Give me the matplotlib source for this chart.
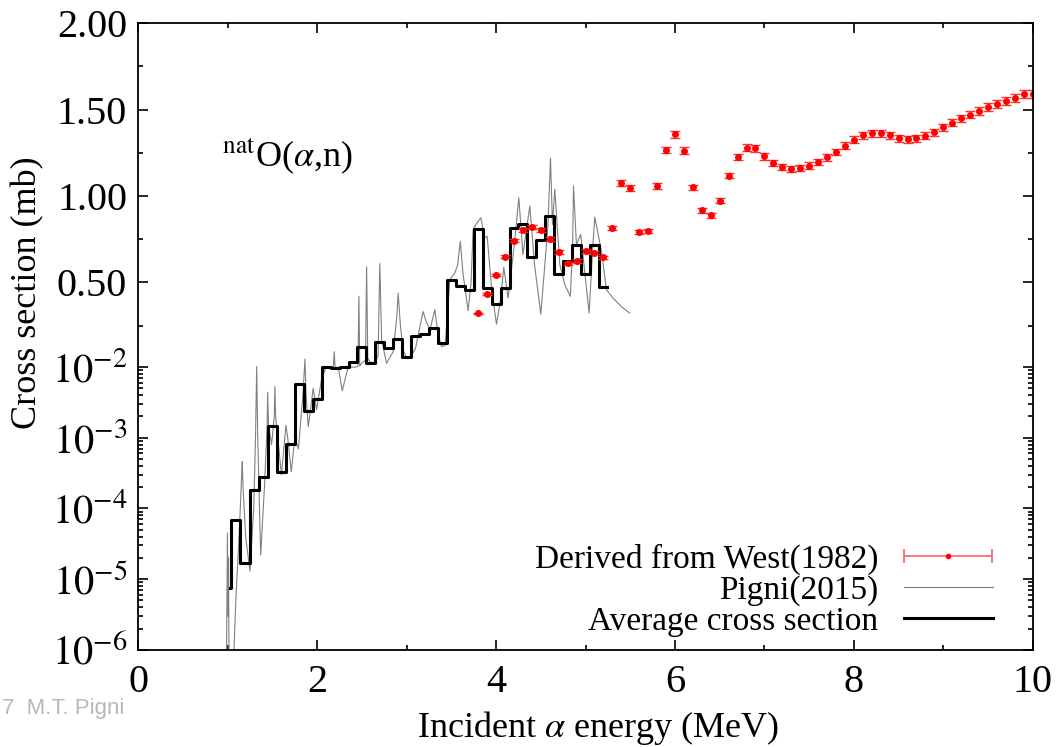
import numpy as np
import matplotlib
matplotlib.use("Agg")
import matplotlib.pyplot as plt
from matplotlib.legend_handler import HandlerErrorbar
from matplotlib.container import ErrorbarContainer

plt.rcParams['font.family'] = ['Liberation Serif', 'DejaVu Serif']
plt.rcParams['mathtext.fontset'] = 'stix'

# ---- data ----------------------------------------------------------------
# West (1982) derived points, energy (MeV) and cross section (mb)
west_e = [3.80, 3.90, 4.00, 4.10, 4.20, 4.30, 4.40, 4.50, 4.60, 4.70, 4.80,
          4.90, 5.00, 5.10, 5.20, 5.30, 5.40, 5.50, 5.60, 5.70, 5.80, 5.90,
          6.00, 6.10, 6.20, 6.30, 6.40, 6.50, 6.60, 6.70, 6.80, 6.90, 7.00,
          7.10, 7.20, 7.30, 7.40, 7.50, 7.60, 7.70, 7.80, 7.90, 8.00, 8.10,
          8.20, 8.30, 8.40, 8.50, 8.60, 8.70, 8.80, 8.90, 9.00, 9.10, 9.20,
          9.30, 9.40, 9.50, 9.60, 9.70, 9.80, 9.90, 10.00]
west_xs = [0.320, 0.434, 0.542, 0.649, 0.742, 0.802, 0.822, 0.802, 0.750,
           0.676, 0.610, 0.624, 0.682, 0.672, 0.645, 0.816, 1.076, 1.045,
           0.791, 0.797, 1.058, 1.266, 1.356, 1.262, 1.050, 0.917, 0.888,
           0.971, 1.118, 1.227, 1.279, 1.275, 1.229, 1.192, 1.167, 1.157,
           1.161, 1.176, 1.198, 1.223, 1.254, 1.291, 1.326, 1.351, 1.362,
           1.362, 1.351, 1.335, 1.327, 1.333, 1.347, 1.368, 1.397, 1.424,
           1.449, 1.471, 1.492, 1.513, 1.533, 1.550, 1.568, 1.589, 1.589]
west_err = [0.015 * v for v in west_xs]

# Pigni (2015) evaluated cross section (resonance curve)
pigni_e = [0.985, 0.996, 1.002, 1.008, 1.015, 1.06, 1.09, 1.13, 1.155, 1.162,
           1.17, 1.20, 1.248, 1.29, 1.31, 1.323, 1.335, 1.368, 1.41, 1.44,
           1.446, 1.455, 1.49, 1.52, 1.527, 1.535, 1.60, 1.65, 1.67, 1.71,
           1.75, 1.79, 1.84, 1.863, 1.875, 1.90, 1.955, 1.993, 2.05, 2.10,
           2.18, 2.19, 2.20, 2.235, 2.28, 2.346, 2.42, 2.455, 2.466, 2.475,
           2.496, 2.54, 2.552, 2.565, 2.589, 2.626, 2.68, 2.70, 2.72, 2.775,
           2.85, 2.887, 2.905, 2.93, 2.96, 3.00, 3.035, 3.10, 3.15, 3.184,
           3.22, 3.26, 3.315, 3.35, 3.39, 3.43, 3.483, 3.539, 3.57, 3.60,
           3.63, 3.687, 3.72, 3.743, 3.78, 3.829, 3.874, 3.90, 3.949, 4.004,
           4.05, 4.086, 4.134, 4.20, 4.254, 4.30, 4.377, 4.43, 4.50, 4.56,
           4.58, 4.608, 4.63, 4.656, 4.712, 4.768, 4.83, 4.855, 4.865, 4.898,
           4.946, 5.04, 5.08, 5.103, 5.178, 5.233, 5.307, 5.40, 5.494]
pigni_xs = [5e-7, 4.5e-5, 3e-6, 2e-5, 5e-7, 5e-7, 5e-6, 5e-5, 3e-4, 4.6e-4,
            2e-4, 4e-5, 1.3e-5, 1e-4, 1e-3, 0.012, 1e-3, 2.2e-5, 2e-4, 1.5e-3,
            4.4e-3, 1.5e-3, 8e-4, 2e-3, 5.3e-3, 2e-3, 3e-4, 1.5e-3, 1e-3, 3.3e-4,
            1e-3, 7e-4, 4e-3, 0.056, 4e-3, 1.43e-3, 5e-3, 2.5e-3, 6.9e-3, 0.0099,
            0.0099, 0.099, 0.0099, 0.0099, 4.6e-3, 0.0116, 0.0099, 0.015, 0.419, 0.015,
            0.031, 0.050, 0.59, 0.060, 0.041, 0.031, 0.070, 0.609, 0.167, 0.031,
            0.100, 0.283, 0.438, 0.250, 0.109, 0.060, 0.060, 0.120, 0.250, 0.331,
            0.270, 0.225, 0.341, 0.200, 0.128, 0.135, 0.516, 0.555, 0.600, 0.738,
            0.550, 0.336, 0.500, 0.807, 0.840, 0.874, 0.758, 0.767, 0.467, 0.258,
            0.400, 0.587, 0.409, 0.700, 0.990, 0.661, 0.942, 0.600, 0.316, 0.700,
            0.835, 1.219, 0.835, 1.039, 0.603, 0.487, 0.419, 0.700, 1.058, 0.719,
            0.777, 0.322, 0.700, 0.878, 0.680, 0.457, 0.409, 0.360, 0.322]

# average cross section, bin edges (MeV) and bin values (mb)
avg_edges = [1.03, 1.04, 1.14, 1.25, 1.35, 1.45, 1.55, 1.65, 1.75, 1.85, 1.95,
             2.05, 2.15, 2.25, 2.35, 2.45, 2.55, 2.65, 2.75, 2.85, 2.95, 3.05,
             3.15, 3.25, 3.35, 3.45, 3.55, 3.65, 3.75, 3.85, 3.95, 4.05, 4.15,
             4.25, 4.35, 4.45, 4.55, 4.65, 4.75, 4.85, 4.95, 5.05, 5.15, 5.245]
avg_xs = [7.5e-6, 6.9e-5, 1.7e-5, 1.8e-4, 2.8e-4, 1.48e-3, 3.25e-4, 8.1e-4,
          5.75e-3, 2.4e-3, 3.5e-3, 0.0115, 0.0098, 0.0106, 0.041, 0.126, 0.031,
          0.157, 0.120, 0.173, 0.066, 0.192, 0.200, 0.237, 0.151, 0.512, 0.480,
          0.453, 0.806, 0.467, 0.374, 0.467, 0.814, 0.837, 0.645, 0.746, 0.882,
          0.547, 0.624, 0.715, 0.548, 0.715, 0.471]

# ---- broken y scale: log below 1e-2, linear above -------------------------
K = (344 / 70.75) / 1.99

def fwd(y):
    y = np.asarray(y, dtype=float)
    lo = np.log10(np.clip(y, 1e-12, None)) + 2
    hi = (y - 0.01) * K
    return np.where(y <= 0.01, lo, hi)

def inv(t):
    t = np.asarray(t, dtype=float)
    return np.where(t <= 0, 10 ** (np.minimum(t, 0) - 2), t / K + 0.01)

fig = plt.figure(figsize=(10.56, 7.47), dpi=100)
ax = fig.add_axes([0.131, 0.130, 0.847, 0.839])
ax.set_yscale('function', functions=(fwd, inv))

ax.plot(pigni_e, pigni_xs, color='#808080', lw=0.8, label='Pigni(2015)')
ax.step(avg_edges, avg_xs + [avg_xs[-1]], where='post', color='black', lw=2.2,
        label='Average cross section')
ax.errorbar(west_e, west_xs, yerr=west_err, fmt='o', color='red', ms=4,
            ecolor='#ff3030', elinewidth=1.0, capsize=3.5, capthick=1.0)

# legend proxy for the experimental points (horizontal bar like the original)
proxy = ax.errorbar([np.nan], [np.nan], xerr=[0.1], fmt='o', color='red', ms=3,
                    ecolor='#ff6060', elinewidth=1.2, capsize=5, capthick=1.2,
                    label='Derived from West(1982)')

ax.set_xlim(0, 10)
ax.set_ylim(1e-6, 2.0)

ax.set_xticks([0, 2, 4, 6, 8, 10])
ax.set_xticks([1, 3, 5, 7, 9], minor=True)
ymaj = [1e-6, 1e-5, 1e-4, 1e-3, 1e-2, 0.5, 1.0, 1.5, 2.0]
ylab = [r'$10^{-6}$', r'$10^{-5}$', r'$10^{-4}$', r'$10^{-3}$', r'$10^{-2}$',
        '0.50', '1.00', '1.50', '2.00']
ax.set_yticks(ymaj, labels=ylab)
yminor = [m * 10.0 ** d for d in range(-6, -2) for m in range(2, 10)]
yminor += [0.25, 0.75, 1.25, 1.75]
ax.set_yticks(yminor, minor=True)
ax.tick_params(which='both', direction='in', top=True, right=True,
               labelsize=29, width=1.2)
ax.tick_params(which='major', length=7)
ax.tick_params(which='minor', length=3.5)
ax.tick_params(axis='x', pad=10)
ax.tick_params(axis='y', pad=8)
for s in ax.spines.values():
    s.set_linewidth(1.3)

ax.set_xlabel(r'Incident $\alpha$ energy (MeV)', fontsize=26)
ax.set_ylabel('Cross section (mb)', fontsize=26)
ax.xaxis.set_label_coords(0.514, -0.095)
ax.yaxis.set_label_coords(-0.105, 0.57)

ax.text(0.93, 1.17, r'$^{\rm nat}$O($\alpha$,n)', fontsize=26)

h, l = ax.get_legend_handles_labels()
order = [l.index('Derived from West(1982)'), l.index('Pigni(2015)'),
         l.index('Average cross section')]
ax.legend([h[i] for i in order], [l[i] for i in order], loc='lower right',
          bbox_to_anchor=(0.97, 0.0), markerfirst=False, frameon=False,
          fontsize=24, handlelength=2.67, handletextpad=0.76,
          labelspacing=0.0, borderaxespad=0.0,
          handler_map={ErrorbarContainer: HandlerErrorbar(xerr_size=1.33)})

fig.text(0.002, 0.052, '7  M.T. Pigni', fontsize=16, color='#b8b8b8',
         family='Liberation Sans', va='center')

fig.savefig('out.png', dpi=100)
